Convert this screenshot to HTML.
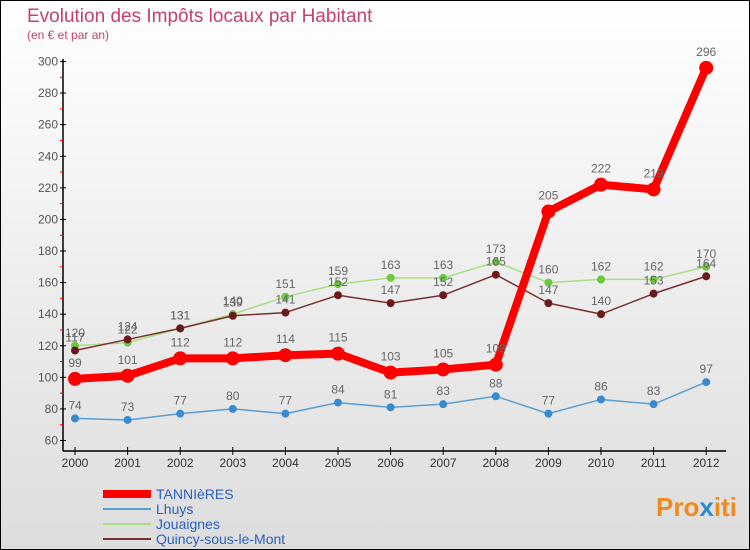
<!DOCTYPE html>
<html><head><meta charset="utf-8"><style>
body{margin:0}
#c{width:748px;height:548px;border:1px solid #000;background:linear-gradient(#fff,#ddd);position:relative;font-family:"Liberation Sans",sans-serif;overflow:hidden}
text{font-family:"Liberation Sans",sans-serif}
</style></head><body>
<div id="c">
<svg id="s" width="748" height="548">
<text x="26" y="21" font-size="19" fill="#c8406a">Evolution des Impôts locaux par Habitant</text>
<text x="26" y="38" font-size="12" fill="#c8406a">(en € et par an)</text>
<text x="655" y="515" font-size="26" font-weight="bold" fill="#f08a1c">Pro<tspan fill="#2a8ad4">x</tspan>iti</text>
</svg></div>
<script>
const years=["2000","2001","2002","2003","2004","2005","2006","2007","2008","2009","2010","2011","2012"];
const yTicks=[60,80,100,120,140,160,180,200,220,240,260,280,300];
const tannieres=[99,101,112,112,114,115,103,105,108,205,222,219,296];
const lhuys=[74,73,77,80,77,84,81,83,88,77,86,83,97];
const jouaignes=[120,122,131,140,151,159,163,163,173,160,162,162,170];
const quincy=[117,124,131,139,141,152,147,152,165,147,140,153,164];
const NS="http://www.w3.org/2000/svg",svg=document.getElementById('s');
const X=i=>74+i*52.6, Y=v=>439.5-(v-60)*379/240;
function mk(t,a,p){const e=document.createElementNS(NS,t);for(const k in a)e.setAttribute(k,a[k]);(p||svg).appendChild(e);return e;}
let ax=mk('line',{x1:62,y1:58,x2:62,y2:450,stroke:'#000','stroke-width':1.5});


let bx=mk('line',{x1:62,y1:450,x2:725,y2:450,stroke:'#000','stroke-width':1.5});


yTicks.forEach((v,k)=>{const y=Y(v);
mk('line',{x1:59,y1:y,x2:65,y2:y,stroke:'#000'});
if(k>0)mk('line',{x1:59,y1:y+15.8,x2:62,y2:y+15.8,stroke:'#f00'});
const t=mk('text',{x:57,y:y+4,'font-size':12,fill:'#555','text-anchor':'end'});t.textContent=v;

});
years.forEach((yr,i)=>{mk('line',{x1:X(i),y1:446,x2:X(i),y2:454,stroke:'#000'});
const t=mk('text',{x:X(i),y:466,'font-size':12,fill:'#333','text-anchor':'middle'});t.textContent=yr;

});
function series(d,col,w,r,name,dot){
const g=mk('g',{});


mk('polyline',{points:d.map((v,i)=>X(i)+','+Y(v)).join(' '),fill:'none',stroke:col,'stroke-width':w,'stroke-linejoin':'round'},g);
d.forEach((v,i)=>{const c=mk('circle',{cx:X(i),cy:Y(v),r:r,fill:dot},g);


const t=mk('text',{x:X(i),y:Y(v)-9-(r>5?3:0),'font-size':12,fill:'#666','text-anchor':'middle'},g);t.textContent=v;});}
series(lhuys,'#5a9fd4',1.5,4,'lhuys','#3a8ad0');
series(jouaignes,'#a8e080',1.5,4,'jouaignes','#6cc83c');
series(quincy,'#7a3030',1.5,4,'quincy','#6a1a1a');
series(tannieres,'#f00',8,7,'tannieres','#f00');
const leg=[["TANNIèRES",'#f00',8],["Lhuys",'#5a9fd4',2],["Jouaignes",'#a8e080',2],["Quincy-sous-le-Mont",'#7a3030',2]];
leg.forEach((l,i)=>{const y=493+i*15;
mk('line',{x1:102,y1:y,x2:150,y2:y,stroke:l[1],'stroke-width':l[2]});
const t=mk('text',{x:155,y:y+5,'font-size':14,fill:'#2a60c0'});t.textContent=l[0];

});
</script></body></html>
